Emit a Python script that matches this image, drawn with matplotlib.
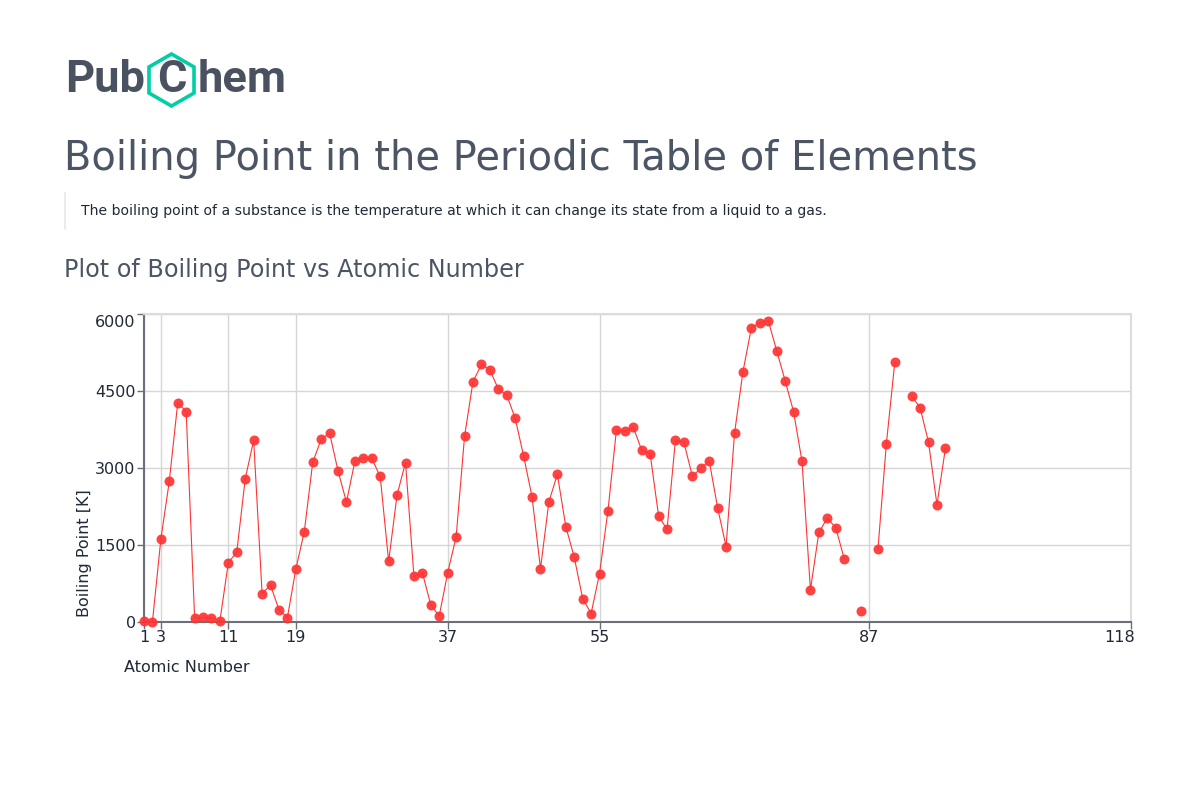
import numpy as np
import matplotlib
matplotlib.use("Agg")
import matplotlib.pyplot as plt
import matplotlib.transforms as mtransforms
from matplotlib.patches import RegularPolygon

nan = np.nan
atomic_numbers = list(range(1, 97))
boiling_points = [
    20.28, 4.22, 1615, 2744, 4273, 4098, 77.36, 90.2, 85.03, 27.07,
    1156, 1363, 2792, 3538, 553.6, 717.75, 239.11, 87.3, 1032, 1757,
    3109, 3560, 3680, 2944, 2334, 3134, 3200, 3186, 2835, 1180,
    2477, 3106, 887, 958, 332, 119.93, 961, 1655, 3618, 4682,
    5017, 4912, 4538, 4423, 3968, 3236, 2435, 1040, 2345, 2875,
    1860, 1261, 457.4, 165.03, 944, 2170, 3737, 3716, 3793, 3347,
    3273, 2067, 1802, 3546, 3503, 2840, 2993, 3141, 2223, 1469,
    3675, 4876, 5731, 5828, 5869, 5285, 4701, 4098, 3129, 629.88,
    1746, 2022, 1837, 1235, nan, 211.3, nan, 1413, 3471, 5061,
    nan, 4404, 4175, 3501, 2284, 3383,
]
x_ticks = [1, 3, 11, 19, 37, 55, 87, 118]
y_ticks = [0, 1500, 3000, 4500, 6000]

title = "Boiling Point in the Periodic Table of Elements"
description = ("The boiling point of a substance is the temperature at which "
               "it can change its state from a liquid to a gas.")
subtitle = "Plot of Boiling Point vs Atomic Number"

W, H = 1200, 800
fig = plt.figure(figsize=(12, 8), dpi=100)
fig.patch.set_facecolor("white")

# main axes in pixel positions
x0, x1, y_top, y_bot = 144, 1131, 314, 622
ax = fig.add_axes([x0 / W, (H - y_bot) / H, (x1 - x0) / W, (y_bot - y_top) / H])

red = "#ff3333"
ax.plot(atomic_numbers, boiling_points, color=red, lw=0.8, zorder=3)
ax.plot(atomic_numbers, boiling_points, 'o', color=red, ms=7.2, alpha=0.92,
        markeredgewidth=0, zorder=4, clip_on=False)

ax.set_xlim(1, 118)
ax.set_ylim(0, 6000)
ax.set_xticks(x_ticks)
ax.set_yticks(y_ticks)
ax.set_xticklabels([str(v) for v in x_ticks])
ax.set_yticklabels([str(v) for v in y_ticks])
ax.grid(True, color="#d6d6d6", lw=1.0, zorder=0)
ax.set_axisbelow(True)
for s in ["top", "right"]:
    ax.spines[s].set_color("#dcdcdc")
    ax.spines[s].set_linewidth(1.5)
for s in ["left", "bottom"]:
    ax.spines[s].set_color("#6b6f78")
    ax.spines[s].set_linewidth(1.5)
ax.tick_params(axis="both", direction="out", length=5, width=1, color="#6b6f78",
               labelsize=11.5, labelcolor="#1f2937", pad=1)

# nudge edge tick labels to stay inside the plot area like the reference
ylabels = ax.get_yticklabels()
ylabels[-1].set_transform(ylabels[-1].get_transform() +
                          mtransforms.ScaledTranslation(0, -7 / 100, fig.dpi_scale_trans))
xlabels = ax.get_xticklabels()
xlabels[-1].set_transform(xlabels[-1].get_transform() +
                          mtransforms.ScaledTranslation(-11 / 100, 0, fig.dpi_scale_trans))

# overlay for page text in pixel coordinates
ov = fig.add_axes([0, 0, 1, 1], zorder=10)
ov.set_xlim(0, W)
ov.set_ylim(H, 0)
ov.axis("off")

gray = "#4b5563"
logo_color = "#4a5160"
ov.text(65, 80, "Pub", fontsize=32.5, fontweight="bold", family="Roboto",
        color=logo_color, va="center", ha="left")
hexagon = RegularPolygon((171.5, 80), numVertices=6, radius=26, orientation=0,
                         facecolor="none", edgecolor="#00cfa5", lw=2.6)
ov.add_patch(hexagon)
ov.text(172, 80, "C", fontsize=32.5, fontweight="bold", family="Roboto",
        color=logo_color, va="center", ha="center")
ov.text(198, 80, "hem", fontsize=32.5, fontweight="bold", family="Roboto",
        color=logo_color, va="center", ha="left")

ov.text(64, 170, title, fontsize=28.8, color=gray, va="baseline", ha="left")
ov.plot([64.5, 64.5], [193, 229], color="#e5e7eb", lw=1.2)
ov.text(81, 211, description, fontsize=10.08, color="#1f2937", va="center", ha="left")
ov.text(64, 277, subtitle, fontsize=17.2, color=gray, va="baseline", ha="left")

ov.text(84, 553, "Boiling Point [K]", fontsize=11.5, color="#1f2937",
        rotation=90, va="center", ha="center")
ov.text(124, 667, "Atomic Number", fontsize=11.5, color="#1f2937",
        va="center", ha="left")

fig.savefig("out.png", dpi=100, facecolor="white")
